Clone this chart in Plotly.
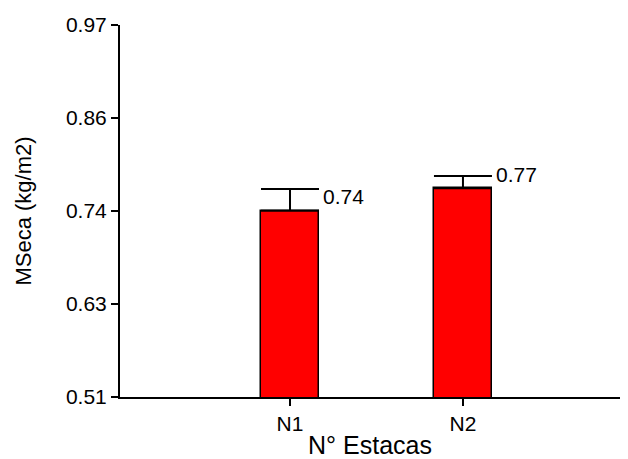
import plotly.graph_objects as go

categories = ["N1", "N2"]
means = [0.7404, 0.768]
errors = [0.0268, 0.0152]
value_labels = ["0.74", "0.77"]
tick_vals = [0.51, 0.625, 0.74, 0.855, 0.97]
tick_text = ["0.51", "0.63", "0.74", "0.86", "0.97"]

FONT = "Liberation Sans, Arial, sans-serif"
BAR_W = 0.335

fig = go.Figure()
fig.add_trace(go.Bar(
    x=categories, y=means, width=[BAR_W] * len(categories),
    marker=dict(color="#ff0000", line=dict(color="black", width=1.5)),
    error_y=dict(type="data", symmetric=False, array=errors,
                 arrayminus=[0] * len(errors), color="black",
                 thickness=2, width=29),
    showlegend=False, hoverinfo="skip",
))

for i, (m, e, lab) in enumerate(zip(means, errors, value_labels)):
    fig.add_annotation(
        x=i + BAR_W / 2, y=m, text=lab, showarrow=False,
        xanchor="left", yanchor="middle", xshift=2, yshift=14,
        font=dict(family=FONT, size=21, color="black"),
    )

fig.update_layout(
    width=628, height=459,
    margin=dict(l=120, r=8, t=25, b=62),
    paper_bgcolor="white", plot_bgcolor="white",
    font=dict(family=FONT, color="black"),
    bargap=0,
)
fig.update_xaxes(
    type="category", range=[-0.983, 1.908], automargin=False,
    showline=True, linecolor="black", linewidth=2,
    ticks="outside", ticklen=7, tickwidth=2, tickcolor="black",
    tickfont=dict(family=FONT, size=21, color="black"),
    showgrid=False, zeroline=False,
    title=dict(text="N° Estacas", font=dict(family=FONT, size=25, color="black"), standoff=8),
)
fig.update_yaxes(
    range=[0.51, 0.97], tickvals=tick_vals, ticktext=tick_text, automargin=False,
    showline=True, linecolor="black", linewidth=2,
    ticks="outside", ticklen=7, tickwidth=2, tickcolor="black",
    tickfont=dict(family=FONT, size=21, color="black"),
    showgrid=False, zeroline=False,
    title=dict(text="MSeca (kg/m2)", font=dict(family=FONT, size=22, color="black"), standoff=28),
)

fig.write_html("out.html")
